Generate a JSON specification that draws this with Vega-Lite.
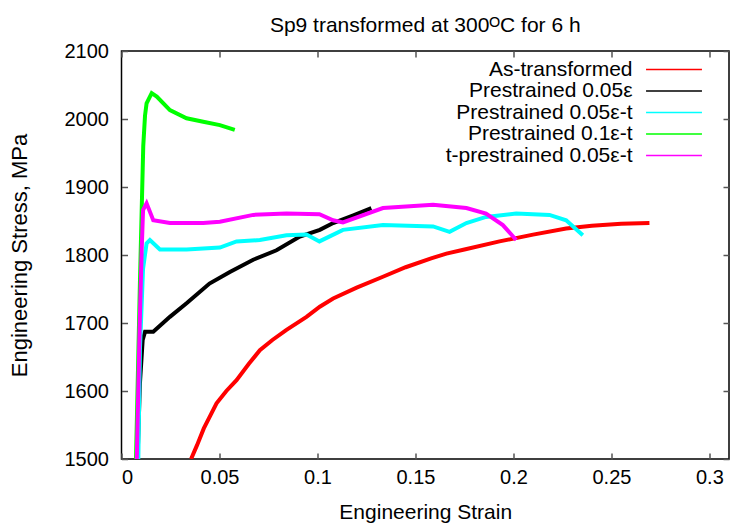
{
  "$schema": "https://vega.github.io/schema/vega-lite/v6.json",
  "autosize": {"type": "none"},
  "width": 607.5,
  "height": 408,
  "padding": {"left": 121.5, "top": 51, "right": 1, "bottom": 68},
  "background": "white",
  "config": {
    "font": "Liberation Sans",
    "view": {"stroke": "black", "strokeWidth": 1.5},
    "axis": {"grid": false, "domain": false, "labelFont": "Liberation Sans", "titleFont": "Liberation Sans", "labelFontSize": 20, "titleFontSize": 20, "titleFontWeight": "normal", "labelColor": "black", "titleColor": "black", "tickColor": "#555", "tickWidth": 1.5}
  },
  "title": {"text": "Sp9 transformed at 300ᴼC for 6 h", "fontSize": 21, "fontWeight": "normal", "font": "Liberation Sans", "anchor": "middle", "baseline": "alphabetic", "offset": -12, "color": "black"},
  "data": {"values": [
    {"s": "As-transformed", "x": 0.0355, "y": 1500}, {"s": "As-transformed", "x": 0.0385, "y": 1520}, {"s": "As-transformed", "x": 0.042, "y": 1545}, {"s": "As-transformed", "x": 0.0455, "y": 1565}, {"s": "As-transformed", "x": 0.0485, "y": 1582}, {"s": "As-transformed", "x": 0.0535, "y": 1600}, {"s": "As-transformed", "x": 0.0587, "y": 1616}, {"s": "As-transformed", "x": 0.065, "y": 1640}, {"s": "As-transformed", "x": 0.0706, "y": 1660}, {"s": "As-transformed", "x": 0.077, "y": 1675}, {"s": "As-transformed", "x": 0.0842, "y": 1690}, {"s": "As-transformed", "x": 0.0944, "y": 1709}, {"s": "As-transformed", "x": 0.1012, "y": 1724}, {"s": "As-transformed", "x": 0.108, "y": 1736}, {"s": "As-transformed", "x": 0.12, "y": 1752}, {"s": "As-transformed", "x": 0.1334, "y": 1768}, {"s": "As-transformed", "x": 0.145, "y": 1782}, {"s": "As-transformed", "x": 0.158, "y": 1795}, {"s": "As-transformed", "x": 0.1658, "y": 1802}, {"s": "As-transformed", "x": 0.175, "y": 1808}, {"s": "As-transformed", "x": 0.1929, "y": 1820}, {"s": "As-transformed", "x": 0.21, "y": 1830}, {"s": "As-transformed", "x": 0.2269, "y": 1839}, {"s": "As-transformed", "x": 0.24, "y": 1843}, {"s": "As-transformed", "x": 0.255, "y": 1846}, {"s": "As-transformed", "x": 0.2694, "y": 1847},
    {"s": "Prestrained 0.05ε", "x": 0.0082, "y": 1500}, {"s": "Prestrained 0.05ε", "x": 0.0094, "y": 1611}, {"s": "Prestrained 0.05ε", "x": 0.0108, "y": 1675}, {"s": "Prestrained 0.05ε", "x": 0.012, "y": 1687}, {"s": "Prestrained 0.05ε", "x": 0.0162, "y": 1687}, {"s": "Prestrained 0.05ε", "x": 0.0247, "y": 1709}, {"s": "Prestrained 0.05ε", "x": 0.0332, "y": 1729}, {"s": "Prestrained 0.05ε", "x": 0.0449, "y": 1758}, {"s": "Prestrained 0.05ε", "x": 0.0553, "y": 1775}, {"s": "Prestrained 0.05ε", "x": 0.0672, "y": 1793}, {"s": "Prestrained 0.05ε", "x": 0.0791, "y": 1807}, {"s": "Prestrained 0.05ε", "x": 0.091, "y": 1827}, {"s": "Prestrained 0.05ε", "x": 0.1012, "y": 1837}, {"s": "Prestrained 0.05ε", "x": 0.108, "y": 1847}, {"s": "Prestrained 0.05ε", "x": 0.118, "y": 1858}, {"s": "Prestrained 0.05ε", "x": 0.1275, "y": 1869},
    {"s": "Prestrained 0.05ε-t", "x": 0.0086, "y": 1500}, {"s": "Prestrained 0.05ε-t", "x": 0.0094, "y": 1660}, {"s": "Prestrained 0.05ε-t", "x": 0.011, "y": 1780}, {"s": "Prestrained 0.05ε-t", "x": 0.0128, "y": 1817}, {"s": "Prestrained 0.05ε-t", "x": 0.0145, "y": 1822}, {"s": "Prestrained 0.05ε-t", "x": 0.0196, "y": 1808}, {"s": "Prestrained 0.05ε-t", "x": 0.0332, "y": 1808}, {"s": "Prestrained 0.05ε-t", "x": 0.0502, "y": 1811}, {"s": "Prestrained 0.05ε-t", "x": 0.0587, "y": 1820}, {"s": "Prestrained 0.05ε-t", "x": 0.0706, "y": 1822}, {"s": "Prestrained 0.05ε-t", "x": 0.0842, "y": 1829}, {"s": "Prestrained 0.05ε-t", "x": 0.0944, "y": 1830}, {"s": "Prestrained 0.05ε-t", "x": 0.101, "y": 1820}, {"s": "Prestrained 0.05ε-t", "x": 0.113, "y": 1837}, {"s": "Prestrained 0.05ε-t", "x": 0.1334, "y": 1844}, {"s": "Prestrained 0.05ε-t", "x": 0.159, "y": 1842}, {"s": "Prestrained 0.05ε-t", "x": 0.1674, "y": 1834}, {"s": "Prestrained 0.05ε-t", "x": 0.176, "y": 1847}, {"s": "Prestrained 0.05ε-t", "x": 0.186, "y": 1856}, {"s": "Prestrained 0.05ε-t", "x": 0.2014, "y": 1861}, {"s": "Prestrained 0.05ε-t", "x": 0.2184, "y": 1859}, {"s": "Prestrained 0.05ε-t", "x": 0.2269, "y": 1851}, {"s": "Prestrained 0.05ε-t", "x": 0.2354, "y": 1829},
    {"s": "Prestrained 0.1ε-t", "x": 0.0074, "y": 1500}, {"s": "Prestrained 0.1ε-t", "x": 0.0094, "y": 1759}, {"s": "Prestrained 0.1ε-t", "x": 0.0111, "y": 1960}, {"s": "Prestrained 0.1ε-t", "x": 0.012, "y": 2005}, {"s": "Prestrained 0.1ε-t", "x": 0.0128, "y": 2023}, {"s": "Prestrained 0.1ε-t", "x": 0.0154, "y": 2038}, {"s": "Prestrained 0.1ε-t", "x": 0.018, "y": 2033}, {"s": "Prestrained 0.1ε-t", "x": 0.0247, "y": 2013}, {"s": "Prestrained 0.1ε-t", "x": 0.0332, "y": 2001}, {"s": "Prestrained 0.1ε-t", "x": 0.0417, "y": 1996}, {"s": "Prestrained 0.1ε-t", "x": 0.0502, "y": 1991}, {"s": "Prestrained 0.1ε-t", "x": 0.0578, "y": 1984},
    {"s": "t-prestrained 0.05ε-t", "x": 0.0078, "y": 1500}, {"s": "t-prestrained 0.05ε-t", "x": 0.0093, "y": 1700}, {"s": "t-prestrained 0.05ε-t", "x": 0.0103, "y": 1807}, {"s": "t-prestrained 0.05ε-t", "x": 0.011, "y": 1866}, {"s": "t-prestrained 0.05ε-t", "x": 0.0128, "y": 1876}, {"s": "t-prestrained 0.05ε-t", "x": 0.0162, "y": 1851}, {"s": "t-prestrained 0.05ε-t", "x": 0.0247, "y": 1847}, {"s": "t-prestrained 0.05ε-t", "x": 0.0417, "y": 1847}, {"s": "t-prestrained 0.05ε-t", "x": 0.0502, "y": 1849}, {"s": "t-prestrained 0.05ε-t", "x": 0.0672, "y": 1859}, {"s": "t-prestrained 0.05ε-t", "x": 0.0842, "y": 1861}, {"s": "t-prestrained 0.05ε-t", "x": 0.101, "y": 1860}, {"s": "t-prestrained 0.05ε-t", "x": 0.108, "y": 1851}, {"s": "t-prestrained 0.05ε-t", "x": 0.113, "y": 1848}, {"s": "t-prestrained 0.05ε-t", "x": 0.1334, "y": 1869}, {"s": "t-prestrained 0.05ε-t", "x": 0.159, "y": 1874}, {"s": "t-prestrained 0.05ε-t", "x": 0.176, "y": 1869}, {"s": "t-prestrained 0.05ε-t", "x": 0.186, "y": 1861}, {"s": "t-prestrained 0.05ε-t", "x": 0.1946, "y": 1844}, {"s": "t-prestrained 0.05ε-t", "x": 0.2014, "y": 1822}
  ]},
  "layer": [
    {
      "mark": {"type": "line", "strokeWidth": 4, "clip": true},
      "encoding": {
        "x": {"field": "x", "type": "quantitative", "scale": {"domain": [0, 0.31], "nice": false, "zero": false},
          "axis": {"orient": "bottom", "values": [0, 0.05, 0.1, 0.15, 0.2, 0.25, 0.3], "format": "~g", "tickSize": -6, "labelPadding": 14, "title": "Engineering Strain", "titlePadding": 14, "titleFontSize": 21}},
        "y": {"field": "y", "type": "quantitative", "scale": {"domain": [1500, 2100], "nice": false, "zero": false},
          "axis": {"orient": "left", "values": [1500, 1600, 1700, 1800, 1900, 2000, 2100], "format": "d", "tickSize": -6, "labelPadding": 19, "title": "Engineering Stress, MPa", "titlePadding": 33, "titleFontSize": 22}},
        "color": {"field": "s", "type": "nominal",
          "scale": {"domain": ["As-transformed", "Prestrained 0.05ε", "Prestrained 0.05ε-t", "Prestrained 0.1ε-t", "t-prestrained 0.05ε-t"], "range": ["#ff0000", "#000000", "#00ffff", "#00ff00", "#ff00ff"]},
          "legend": {"title": null, "orient": "none", "legendX": 542, "legendY": 8, "symbolType": "M-5,0H5", "symbolSize": 125, "symbolStrokeWidth": 1.5, "labelAlign": "right", "labelOffset": -52, "labelFontSize": 21, "labelFont": "Liberation Sans", "labelColor": "black", "rowPadding": -0.5, "labelLimit": 400}}
      }
    },
    {
      "mark": {"type": "line", "opacity": 0},
      "encoding": {
        "x": {"field": "x", "type": "quantitative", "axis": {"orient": "top", "values": [0, 0.05, 0.1, 0.15, 0.2, 0.25, 0.3], "labels": false, "tickSize": -6, "title": null}},
        "y": {"field": "y", "type": "quantitative", "axis": {"orient": "right", "values": [1500, 1600, 1700, 1800, 1900, 2000, 2100], "labels": false, "tickSize": -6, "title": null}},
        "detail": {"field": "s"}
      }
    }
  ],
  "resolve": {"axis": {"x": "independent", "y": "independent"}}
}
